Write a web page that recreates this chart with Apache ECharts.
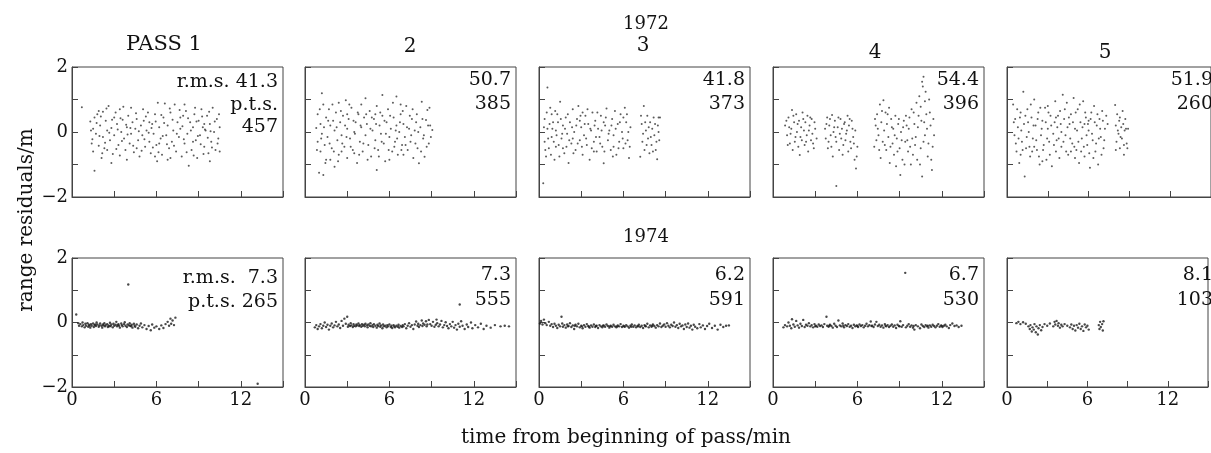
<!DOCTYPE html>
<html><head><meta charset="utf-8">
<script src="https://cdn.jsdelivr.net/npm/echarts/dist/echarts.min.js"></script>
<style>html,body{margin:0;padding:0;background:#fff}#c{width:1211px;height:453px}</style>
</head><body><div id="c"></div>
<script>
const passTitles = ['PASS 1','2','3','4','5'];
const yearTitles = ['1972','1974'];
const rms1972 = ['41.3','50.7','41.8','54.4','51.9'];
const pts1972 = ['457','385','373','396','260'];
const rms1974 = ['7.3','7.3','6.2','6.7','8.1'];
const pts1974 = ['265','555','591','530','103'];
const xTickLabels = [0,6,12];
const yTickLabels = [2,0,-2];
const yAxisTitle = 'range residuals/m';
const xAxisTitle = 'time from beginning of pass/min';

const d72_1 = [[0.7,0.76],[1.3,0.32],[1.4,-0.35],[1.5,-0.6],[1.6,-1.19],[1.5,0.1],[1.7,-0.05],[1.8,0.55],[1.9,-0.42],[2.0,0.2],[2.1,-0.8],[2.2,0.62],[2.2,-0.15],[2.4,0.35],[2.5,-0.55],[2.5,0.05],[2.6,0.8],[2.7,-0.25],[2.8,0.12],[2.9,-0.68],[3.0,0.45],[3.0,-0.1],[3.2,0.25],[3.3,-0.4],[3.4,0.7],[3.4,-0.72],[3.5,0.0],[3.6,0.38],[3.7,-0.2],[3.8,-0.55],[3.9,0.15],[4.0,0.5],[4.1,-0.35],[4.2,-0.05],[4.3,0.3],[4.4,-0.62],[4.5,0.1],[4.6,0.4],[4.7,-0.25],[4.8,-0.75],[4.9,0.2],[5.0,-0.1],[5.1,0.35],[5.2,-0.45],[5.3,0.05],[5.4,0.6],[5.5,-0.3],[5.6,-0.65],[5.7,0.25],[5.8,-0.05],[5.9,0.55],[6.0,-0.4],[6.1,0.9],[6.2,0.15],[6.3,-0.2],[6.4,-0.7],[6.5,0.45],[6.6,0.88],[6.7,-0.1],[6.8,0.2],[6.9,-0.5],[7.0,0.6],[7.1,-0.3],[7.2,0.05],[7.3,0.85],[7.4,-0.6],[7.5,0.3],[7.6,-0.15],[7.7,0.1],[7.8,-0.75],[7.9,0.5],[8.0,-0.35],[8.1,0.65],[8.2,-0.05],[8.3,-1.04],[8.4,0.3],[8.5,-0.55],[8.6,0.15],[8.7,0.55],[8.8,-0.25],[8.9,-0.8],[9.0,0.35],[9.1,-0.1],[9.2,0.7],[9.3,0.15],[9.4,-0.45],[9.5,0.05],[9.6,0.5],[9.7,-0.65],[9.8,0.25],[9.9,-0.3],[10.0,0.75],[10.1,0.0],[10.2,-0.55],[10.3,0.4],[10.4,-0.2],[10.5,0.15],[10.5,-0.6],[1.6,0.45],[2.3,-0.5],[3.1,0.6],[3.9,-0.85],[4.6,-0.5],[5.5,0.3],[6.2,-0.35],[7.0,-0.8],[7.7,0.45],[8.6,-0.3],[9.4,0.25],[9.8,-0.9],[2.8,-0.95],[5.9,-0.75],[1.9,0.65],[4.2,0.75],[8.0,0.85],[6.8,-0.85],
[1.35,0.05],[1.45,-0.22],[1.75,0.28],[1.95,-0.12],[2.05,0.48],[2.35,-0.33],[2.45,0.72],[2.65,-0.02],[2.85,0.38],[3.15,-0.52],[3.25,0.08],[3.45,0.42],[3.55,-0.28],[3.85,0.22],[3.95,-0.08],[4.15,0.12],[4.35,-0.42],[4.55,0.58],[4.75,0.02],[4.95,-0.58],[5.15,-0.22],[5.25,0.48],[5.45,-0.02],[5.65,0.12],[5.75,-0.48],[5.95,0.32],[6.15,-0.62],[6.35,0.52],[6.45,-0.12],[6.55,0.28],[6.75,-0.38],[6.95,0.72],[7.15,0.38],[7.25,-0.42],[7.45,-0.05],[7.65,0.68],[7.85,0.18],[7.95,-0.22],[8.15,-0.62],[8.25,0.42],[8.45,0.05],[8.65,-0.72],[8.85,0.32],[8.95,-0.12],[9.15,-0.38],[9.25,0.48],[9.35,-0.68],[9.45,0.08],[9.65,-0.18],[9.75,0.62],[9.85,0.02],[9.95,-0.48],[10.15,0.32],[10.35,-0.35],[10.45,0.55],[3.65,0.78],[5.05,0.7],[2.15,-0.65],[6.05,-0.9],[8.75,0.75]];
const d72_2 = [[0.8,0.12],[0.9,-0.3],[0.9,0.55],[1.0,-1.25],[1.1,-0.6],[1.1,0.25],[1.2,1.19],[1.2,-0.05],[1.3,0.85],[1.3,-1.32],[1.4,-0.4],[1.5,0.45],[1.6,-0.15],[1.7,0.7],[1.8,-0.85],[1.8,0.2],[1.9,-0.5],[2.0,0.35],[2.1,-1.07],[2.1,0.05],[2.2,0.6],[2.3,-0.25],[2.4,-0.7],[2.5,0.3],[2.6,-0.1],[2.7,0.5],[2.8,-0.45],[2.9,0.98],[3.0,0.1],[3.0,-0.8],[3.1,0.4],[3.2,-0.2],[3.3,0.75],[3.4,-0.55],[3.5,0.0],[3.6,0.3],[3.7,-0.95],[3.8,0.55],[3.9,-0.3],[4.0,0.15],[4.1,-0.6],[4.2,0.45],[4.3,1.04],[4.3,-0.1],[4.4,0.25],[4.5,-0.4],[4.6,0.65],[4.7,-0.75],[4.8,0.05],[4.9,0.4],[5.0,-0.25],[5.1,-1.17],[5.1,0.8],[5.2,-0.55],[5.3,0.2],[5.4,-0.05],[5.5,1.14],[5.5,0.5],[5.6,-0.35],[5.7,-0.9],[5.8,0.3],[5.9,0.7],[6.0,-0.15],[6.1,0.1],[6.2,-0.6],[6.3,0.45],[6.4,-0.3],[6.5,1.09],[6.5,0.2],[6.6,-0.7],[6.7,0.0],[6.8,0.55],[6.9,-0.4],[7.0,0.25],[7.1,-0.15],[7.2,0.8],[7.3,-0.55],[7.4,0.1],[7.5,-0.3],[7.6,0.4],[7.7,-0.8],[7.8,0.05],[7.9,0.3],[8.0,-0.5],[8.1,-0.96],[8.2,0.15],[8.3,0.93],[8.4,-0.2],[8.5,-0.76],[8.6,0.37],[8.7,0.68],[8.8,-0.35],[8.9,0.2],[9.05,0.06],[1.5,-0.85],[2.4,0.9],[3.5,-0.65],[4.0,0.85],[5.0,0.55],[6.0,-0.85],[7.0,-0.7],[3.0,0.55],[6.8,0.85],[2.6,-0.6],
[0.85,-0.55],[1.05,0.7],[1.15,-0.2],[1.35,0.15],[1.45,-0.95],[1.65,0.35],[1.75,-0.35],[1.95,0.85],[2.05,-0.6],[2.25,0.15],[2.35,-0.9],[2.55,0.65],[2.65,-0.35],[2.85,0.2],[2.95,-0.15],[3.15,0.85],[3.25,-0.45],[3.45,0.35],[3.55,-0.05],[3.75,0.6],[3.85,-0.7],[3.95,0.2],[4.15,-0.35],[4.35,0.55],[4.45,-0.85],[4.65,0.1],[4.75,0.45],[4.95,-0.5],[5.05,0.25],[5.25,-0.75],[5.35,0.6],[5.45,-0.3],[5.65,0.35],[5.75,-0.05],[5.95,-0.55],[6.05,0.5],[6.25,0.9],[6.35,-0.45],[6.45,0.05],[6.55,-0.2],[6.75,0.3],[6.85,-0.55],[6.95,0.65],[7.15,-0.4],[7.25,0.15],[7.45,0.5],[7.55,-0.1],[7.65,0.7],[7.85,-0.35],[7.95,0.55],[8.05,0.0],[8.25,-0.6],[8.35,0.4],[8.45,-0.1],[8.65,-0.45],[8.75,0.2],[8.85,0.75],[8.95,-0.15]];
const d72_3 = [[0.3,-1.58],[0.4,-0.3],[0.4,0.4],[0.5,-0.75],[0.6,1.37],[0.6,0.1],[0.7,-0.5],[0.8,0.75],[0.9,-0.15],[1.0,0.3],[1.1,-0.85],[1.2,0.05],[1.3,0.55],[1.4,-0.4],[1.5,0.93],[1.6,-0.2],[1.7,0.2],[1.8,-0.65],[1.9,0.45],[2.0,-0.05],[2.1,-0.95],[2.2,0.3],[2.3,-0.35],[2.4,0.7],[2.5,0.0],[2.6,-0.55],[2.7,0.4],[2.8,0.8],[2.9,-0.25],[3.0,0.15],[3.1,-0.7],[3.2,-0.1],[3.3,0.5],[3.4,-0.4],[3.5,0.25],[3.6,-0.85],[3.7,0.05],[3.8,0.6],[3.9,-0.3],[4.0,0.35],[4.1,-0.6],[4.2,0.1],[4.3,-0.15],[4.4,0.5],[4.5,-0.45],[4.6,-0.96],[4.7,0.2],[4.8,0.72],[4.9,-0.25],[5.0,0.05],[5.1,-0.55],[5.2,0.4],[5.3,-0.1],[5.4,0.65],[5.5,-0.7],[5.6,0.25],[5.7,-0.3],[5.8,0.55],[5.9,0.0],[6.0,-0.5],[6.1,0.75],[6.2,0.3],[6.3,-0.25],[6.4,-0.8],[6.5,0.15],[7.2,-0.76],[7.3,0.25],[7.35,-0.3],[7.45,0.8],[7.5,-0.55],[7.6,0.05],[7.7,0.5],[7.75,-0.2],[7.85,-0.65],[7.9,0.3],[8.0,-0.4],[8.05,0.1],[8.15,0.45],[8.2,-0.1],[8.3,-0.55],[8.4,-0.84],[8.45,0.2],[8.5,0.45],[8.55,-0.25],[8.6,0.45],[0.9,0.55],[1.7,-0.5],[2.4,-0.2],[3.1,0.6],[3.9,-0.6],[4.6,0.3],[5.3,-0.45],[6.0,0.45],[1.2,-0.45],[2.9,0.35],
[0.35,0.15],[0.45,-0.55],[0.55,0.6],[0.65,-0.2],[0.75,0.25],[0.85,-0.7],[0.95,0.1],[1.05,-0.3],[1.15,0.65],[1.25,-0.1],[1.35,0.3],[1.45,-0.75],[1.55,0.4],[1.65,-0.05],[1.85,0.1],[1.95,-0.45],[2.05,0.55],[2.15,-0.25],[2.35,0.15],[2.45,-0.65],[2.65,0.2],[2.75,-0.35],[2.95,0.5],[3.05,-0.45],[3.25,0.25],[3.35,-0.2],[3.45,0.7],[3.65,0.1],[3.75,-0.5],[3.95,0.2],[4.05,-0.15],[4.15,0.6],[4.35,-0.35],[4.45,0.05],[4.65,-0.6],[4.75,0.45],[4.95,-0.05],[5.15,0.2],[5.25,-0.75],[5.45,0.1],[5.65,-0.5],[5.75,0.3],[5.95,-0.2],[6.15,-0.35],[6.25,0.55],[6.35,0.0],[6.45,-0.45],[7.25,0.5],[7.4,-0.05],[7.55,0.3],[7.65,-0.4],[7.8,0.15],[7.95,-0.15],[8.1,-0.6],[8.25,0.25],[8.35,-0.3],[8.5,0.0]];
const d72_4 = [[0.86,0.2],[1.0,-0.1],[1.1,0.45],[1.2,-0.35],[1.3,0.1],[1.35,0.68],[1.4,-0.55],[1.5,0.3],[1.6,-0.15],[1.65,0.55],[1.7,0.0],[1.8,-0.45],[1.85,0.35],[1.9,-0.71],[2.0,0.15],[2.05,-0.25],[2.1,0.6],[2.2,0.05],[2.25,-0.4],[2.3,0.3],[2.4,-0.1],[2.45,0.5],[2.5,-0.6],[2.6,0.2],[2.7,-0.25],[2.75,0.4],[2.8,-0.05],[2.9,-0.5],[3.0,0.1],[3.1,-0.2],[3.7,0.1],[3.75,-0.2],[3.85,0.45],[3.9,-0.5],[4.0,0.2],[4.1,-0.1],[4.2,0.52],[4.25,-0.75],[4.3,0.0],[4.4,0.35],[4.5,-1.66],[4.5,-0.3],[4.6,0.15],[4.7,-0.55],[4.8,0.4],[4.85,-0.2],[4.9,0.1],[5.0,-0.4],[5.1,0.3],[5.2,-0.05],[5.3,0.5],[5.35,-0.6],[5.4,0.2],[5.5,-0.3],[5.6,0.35],[5.7,-0.15],[5.8,-0.85],[5.85,0.05],[5.9,-1.12],[6.0,-0.45],[7.2,-0.45],[7.3,0.2],[7.4,0.55],[7.5,-0.1],[7.6,0.85],[7.65,-0.8],[7.7,0.3],[7.8,-0.3],[7.85,0.98],[7.9,0.05],[8.0,0.6],[8.05,-0.55],[8.1,0.25],[8.2,-0.15],[8.25,0.75],[8.3,-0.95],[8.4,0.4],[8.5,-0.35],[8.55,0.1],[8.6,-0.7],[8.7,0.5],[8.75,-1.05],[8.8,-0.2],[8.9,0.25],[9.0,-0.5],[9.05,-1.32],[9.1,0.0],[9.2,-0.85],[9.3,0.35],[9.4,-0.3],[9.5,0.2],[9.6,-0.6],[9.7,0.45],[9.8,-1.0],[9.9,-0.2],[10.0,0.6],[10.1,-0.4],[10.2,0.9],[10.25,-0.85],[10.3,0.15],[10.4,1.1],[10.5,0.78],[10.5,-0.5],[10.6,-1.37],[10.65,1.4],[10.7,1.7],[10.75,0.3],[10.8,-0.1],[10.85,1.24],[10.9,0.55],[11.0,-0.75],[11.1,1.0],[11.2,0.2],[11.3,-1.17],[11.35,-0.45],[11.4,0.4],
[0.95,0.35],[1.05,-0.4],[1.15,0.15],[1.25,-0.05],[1.45,0.5],[1.55,-0.3],[1.75,0.25],[1.95,-0.15],[2.15,0.4],[2.35,-0.3],[2.55,0.05],[2.65,0.45],[2.85,-0.35],[2.95,0.3],[3.8,0.25],[3.95,-0.3],[4.05,0.4],[4.15,-0.45],[4.35,0.15],[4.45,-0.15],[4.65,0.45],[4.75,-0.05],[4.95,-0.7],[5.05,0.25],[5.15,-0.25],[5.25,0.05],[5.45,0.4],[5.55,-0.5],[5.65,0.1],[5.75,-0.35],[5.95,-0.75],[7.25,0.4],[7.35,-0.25],[7.45,0.1],[7.55,-0.55],[7.75,0.65],[7.95,-0.4],[8.15,0.55],[8.35,-0.45],[8.45,0.15],[8.65,-0.1],[8.85,-0.6],[8.95,0.4],[9.15,-0.25],[9.25,0.15],[9.35,-1.0],[9.45,0.5],[9.55,-0.25],[9.65,0.1],[9.75,-0.45],[9.85,0.7],[9.95,-0.7],[10.05,0.25],[10.15,-0.15],[10.35,0.5],[10.45,-1.0],[10.55,0.35],[10.6,1.55],[10.7,-0.3],[10.8,0.95],[10.95,0.1],[11.05,-0.35],[11.15,0.6],[11.25,-0.85],[11.45,-0.1]];
const d72_5 = [[0.45,0.85],[0.55,-0.1],[0.6,0.4],[0.7,-0.6],[0.8,0.15],[0.9,-0.95],[1.0,0.6],[1.1,-0.3],[1.2,1.24],[1.25,0.25],[1.3,-1.37],[1.4,-0.5],[1.5,0.7],[1.6,0.0],[1.7,-0.75],[1.8,0.45],[1.9,-0.2],[2.0,1.0],[2.1,0.2],[2.2,-0.55],[2.3,0.6],[2.4,-1.0],[2.5,-0.1],[2.6,0.35],[2.7,-0.4],[2.8,0.75],[2.9,-0.85],[3.0,0.1],[3.1,-0.3],[3.2,0.5],[3.3,-1.05],[3.4,-0.05],[3.5,0.3],[3.6,-0.6],[3.7,0.15],[3.8,-0.2],[3.9,0.65],[4.0,-0.45],[4.1,1.15],[4.2,0.4],[4.3,-0.1],[4.4,0.9],[4.5,-0.7],[4.6,0.25],[4.7,0.55],[4.8,-0.35],[4.9,1.05],[5.0,0.1],[5.1,-0.55],[5.2,0.7],[5.3,-0.95],[5.4,0.3],[5.5,-0.2],[5.6,0.95],[5.7,-0.75],[5.8,0.45],[5.9,-0.4],[6.0,0.05],[6.1,-1.1],[6.2,0.6],[6.3,-0.25],[6.4,0.8],[6.5,-0.6],[6.6,0.2],[6.7,-1.0],[6.8,0.4],[6.9,-0.15],[7.0,0.65],[7.1,-0.5],[7.2,0.1],[7.4,0.25],[7.95,0.83],[8.0,0.2],[8.05,-0.3],[8.1,0.55],[8.2,-0.05],[8.25,0.35],[8.3,-0.5],[8.4,0.15],[8.45,-0.2],[8.5,0.65],[8.6,-0.7],[8.65,0.05],[8.7,0.4],[8.8,-0.35],[8.9,0.1],[1.0,-0.7],[2.0,-0.45],[3.0,0.8],[4.0,0.0],[5.0,-0.8],[6.0,0.35],[3.6,0.45],[2.6,-0.9],[4.7,-0.6],[5.7,0.25],
[0.5,0.3],[0.65,-0.35],[0.75,0.7],[0.85,-0.2],[0.95,0.45],[1.05,0.05],[1.15,-0.55],[1.35,0.5],[1.45,-0.15],[1.55,0.3],[1.65,-0.45],[1.75,0.85],[1.85,-0.6],[1.95,0.2],[2.15,-0.25],[2.25,0.4],[2.35,-0.75],[2.45,0.75],[2.55,0.1],[2.65,-0.55],[2.85,0.3],[2.95,-0.2],[3.05,0.6],[3.15,-0.7],[3.25,0.2],[3.45,-0.4],[3.55,0.95],[3.65,-0.25],[3.75,0.5],[3.85,-0.8],[3.95,0.25],[4.15,-0.3],[4.25,0.7],[4.35,-0.6],[4.45,0.15],[4.55,0.45],[4.65,-0.2],[4.85,0.3],[4.95,-0.45],[5.05,0.6],[5.15,0.05],[5.25,-0.3],[5.35,0.85],[5.45,-0.6],[5.55,0.15],[5.65,-0.45],[5.75,0.6],[5.85,-0.1],[5.95,0.25],[6.05,-0.65],[6.15,0.4],[6.25,-0.05],[6.35,-0.8],[6.45,0.3],[6.55,-0.35],[6.65,0.55],[6.75,-0.2],[6.85,0.1],[6.95,-0.7],[7.05,0.35],[7.15,-0.25],[7.3,0.5],[8.0,-0.55],[8.15,0.05],[8.3,0.45],[8.35,-0.15],[8.55,0.25],[8.6,-0.4],[8.75,0.1],[8.85,-0.5]];
const d74_1 = [[0.45,-0.02],[0.5,-0.1],[0.6,-0.05],[0.7,-0.12],[0.75,0.0],[0.8,-0.08],[0.9,-0.15],[0.95,-0.04],[1.0,-0.1],[1.1,-0.02],[1.15,-0.13],[1.2,-0.07],[1.3,-0.16],[1.35,-0.05],[1.4,-0.1],[1.5,-0.03],[1.55,-0.14],[1.6,-0.08],[1.7,-0.11],[1.75,0.0],[1.8,-0.06],[1.9,-0.13],[1.95,-0.09],[2.0,-0.03],[2.1,-0.1],[2.15,-0.16],[2.2,-0.06],[2.3,-0.02],[2.35,-0.12],[2.4,-0.08],[2.5,-0.05],[2.55,-0.14],[2.6,-0.09],[2.7,-0.01],[2.75,-0.11],[2.8,-0.06],[2.9,-0.15],[2.95,-0.04],[3.0,-0.1],[3.1,-0.07],[3.15,0.02],[3.2,-0.12],[3.3,-0.05],[3.35,-0.1],[3.4,-0.16],[3.5,-0.03],[3.55,-0.08],[3.6,-0.12],[3.7,-0.05],[3.75,0.01],[3.8,-0.1],[3.9,-0.14],[3.95,-0.06],[4.0,1.18],[4.05,-0.09],[4.1,-0.02],[4.2,-0.12],[4.25,-0.07],[4.3,-0.16],[4.4,-0.04],[4.45,-0.1],[4.5,-0.13],[4.6,-0.06],[4.7,-0.18],[4.8,-0.1],[4.9,-0.03],[5.0,-0.15],[5.15,-0.08],[5.3,-0.2],[5.45,-0.11],[5.6,-0.24],[5.7,-0.06],[5.85,-0.16],[6.0,-0.12],[6.2,-0.2],[6.35,-0.09],[6.5,-0.17],[6.65,-0.05],[6.8,0.02],[6.9,-0.1],[7.0,0.12],[7.05,-0.04],[7.15,0.06],[7.25,-0.08],[7.35,0.15],[0.3,0.25],[13.2,-1.9],[1.25,-0.1],[2.25,-0.09],[3.25,-0.08],[4.15,-0.1],[2.65,-0.12],[1.65,-0.06]];
const d74_2 = [[0.7,-0.15],[0.8,-0.08],[0.9,-0.2],[1.0,-0.12],[1.1,-0.05],[1.2,-0.18],[1.3,-0.1],[1.4,0.0],[1.5,-0.14],[1.6,-0.07],[1.7,-0.22],[1.8,-0.1],[1.9,-0.03],[2.0,-0.15],[2.1,-0.09],[2.2,0.02],[2.3,-0.12],[2.4,-0.06],[2.5,-0.17],[2.6,0.05],[2.7,-0.1],[2.8,0.12],[2.9,-0.04],[3.0,0.18],[3.05,-0.13],[3.1,-0.07],[3.2,-0.11],[3.25,-0.02],[3.3,-0.09],[3.4,-0.14],[3.45,-0.05],[3.5,-0.1],[3.6,-0.12],[3.65,-0.06],[3.7,-0.09],[3.8,-0.03],[3.85,-0.11],[3.9,-0.08],[4.0,-0.13],[4.05,-0.05],[4.1,-0.1],[4.2,-0.07],[4.25,-0.12],[4.3,-0.04],[4.4,-0.09],[4.45,-0.15],[4.5,-0.06],[4.6,-0.1],[4.65,-0.02],[4.7,-0.12],[4.8,-0.08],[4.85,-0.14],[4.9,-0.05],[5.0,-0.1],[5.1,-0.16],[5.15,-0.07],[5.2,-0.11],[5.3,-0.03],[5.35,-0.13],[5.4,-0.09],[5.5,-0.18],[5.55,-0.06],[5.6,-0.12],[5.7,-0.1],[5.8,-0.15],[5.85,-0.08],[5.9,-0.12],[6.0,-0.06],[6.1,-0.14],[6.15,-0.1],[6.2,-0.17],[6.3,-0.08],[6.35,-0.12],[6.4,-0.15],[6.5,-0.1],[6.6,-0.13],[6.65,-0.07],[6.7,-0.16],[6.8,-0.11],[6.9,-0.14],[6.95,-0.08],[7.0,-0.12],[7.1,-0.05],[7.2,-0.18],[7.3,-0.1],[7.4,-0.02],[7.5,-0.13],[7.6,-0.08],[7.7,-0.2],[7.8,-0.06],[7.9,0.03],[8.0,-0.1],[8.05,-0.04],[8.1,-0.14],[8.2,-0.08],[8.3,0.06],[8.35,-0.11],[8.4,-0.03],[8.5,-0.07],[8.6,0.04],[8.65,-0.12],[8.7,-0.06],[8.8,0.08],[8.9,-0.05],[9.0,-0.1],[9.1,0.02],[9.2,-0.13],[9.3,-0.07],[9.35,0.09],[9.4,-0.02],[9.5,-0.12],[9.6,-0.06],[9.7,0.05],[9.8,-0.15],[9.9,-0.08],[10.0,0.01],[10.1,-0.11],[10.2,-0.18],[10.3,-0.05],[10.4,-0.12],[10.5,0.02],[10.6,-0.16],[10.7,-0.08],[10.8,-0.22],[10.9,-0.04],[11.0,-0.13],[11.1,0.04],[11.2,-0.1],[11.35,-0.2],[11.5,-0.06],[11.6,-0.14],[11.8,0.0],[11.9,-0.18],[12.1,-0.08],[12.3,-0.15],[12.5,-0.04],[12.7,-0.2],[12.9,-0.1],[13.2,-0.16],[13.5,-0.08],[13.9,-0.12],[14.2,-0.1],[14.5,-0.12],[11.0,0.56]];
const d74_3 = [[0.07,-0.03],[0.15,0.05],[0.25,-0.06],[0.35,0.09],[0.45,-0.02],[0.55,-0.08],[0.7,0.02],[0.8,-0.1],[0.9,-0.05],[1.0,-0.14],[1.1,-0.04],[1.2,-0.1],[1.3,-0.17],[1.4,-0.07],[1.5,-0.12],[1.6,0.18],[1.65,-0.03],[1.7,-0.13],[1.8,-0.08],[1.9,-0.16],[2.0,-0.06],[2.1,-0.11],[2.2,-0.02],[2.3,-0.14],[2.4,-0.09],[2.5,-0.2],[2.6,-0.07],[2.7,-0.12],[2.8,-0.04],[2.9,-0.15],[3.0,-0.1],[3.1,-0.18],[3.2,-0.08],[3.3,-0.13],[3.4,-0.05],[3.5,-0.11],[3.6,-0.16],[3.7,-0.09],[3.8,-0.13],[3.9,-0.06],[4.0,-0.14],[4.1,-0.1],[4.2,-0.17],[4.3,-0.08],[4.4,-0.12],[4.5,-0.15],[4.6,-0.09],[4.7,-0.13],[4.8,-0.06],[4.9,-0.11],[5.0,-0.16],[5.1,-0.1],[5.2,-0.13],[5.3,-0.07],[5.4,-0.12],[5.5,-0.15],[5.6,-0.09],[5.7,-0.12],[5.8,-0.05],[5.9,-0.14],[6.0,-0.1],[6.1,-0.13],[6.2,-0.08],[6.3,-0.12],[6.4,-0.16],[6.5,-0.1],[6.6,-0.06],[6.7,-0.13],[6.8,-0.09],[6.9,-0.15],[7.0,-0.11],[7.1,-0.07],[7.2,-0.14],[7.3,-0.1],[7.4,-0.17],[7.5,-0.08],[7.6,-0.12],[7.7,-0.04],[7.8,-0.15],[7.9,-0.09],[8.0,-0.13],[8.1,-0.06],[8.2,-0.11],[8.3,-0.16],[8.4,-0.08],[8.5,-0.12],[8.6,-0.03],[8.7,-0.14],[8.8,-0.1],[8.9,-0.06],[9.0,-0.13],[9.1,-0.02],[9.2,-0.1],[9.3,-0.15],[9.4,-0.07],[9.5,-0.11],[9.6,0.0],[9.7,-0.13],[9.8,-0.08],[9.9,-0.17],[10.0,-0.04],[10.1,-0.12],[10.2,-0.09],[10.3,-0.2],[10.4,-0.06],[10.5,-0.14],[10.6,-0.03],[10.7,-0.16],[10.8,-0.1],[10.9,-0.22],[11.0,-0.07],[11.1,-0.13],[11.25,-0.18],[11.4,-0.05],[11.5,-0.15],[11.65,-0.09],[11.8,-0.2],[11.95,-0.11],[12.1,-0.04],[12.3,-0.17],[12.5,-0.1],[12.7,-0.22],[12.9,-0.07],[13.1,-0.14],[13.3,-0.1],[13.5,-0.09],[2.05,-0.12],[3.05,-0.12],[4.05,-0.11],[5.05,-0.12],[6.05,-0.12],[7.05,-0.12],[8.05,-0.1],[2.55,-0.1],[3.55,-0.13],[4.55,-0.1],[5.55,-0.12],[6.55,-0.13],[7.55,-0.11]];
const d74_4 = [[0.74,-0.15],[0.85,-0.08],[1.0,-0.12],[1.1,0.0],[1.2,-0.1],[1.3,-0.18],[1.35,0.1],[1.45,-0.06],[1.55,-0.13],[1.65,0.05],[1.75,-0.09],[1.85,-0.16],[1.95,-0.04],[2.05,-0.11],[2.15,0.08],[2.25,-0.14],[2.35,-0.07],[2.45,-0.1],[2.55,-0.02],[2.65,-0.12],[2.75,-0.08],[2.85,-0.15],[2.95,-0.05],[3.05,-0.1],[3.15,-0.13],[3.25,-0.06],[3.35,-0.11],[3.45,-0.09],[3.55,-0.14],[3.65,-0.05],[3.8,0.18],[3.85,-0.1],[3.95,-0.13],[4.05,-0.07],[4.15,-0.11],[4.25,-0.16],[4.35,-0.04],[4.45,-0.1],[4.55,-0.14],[4.65,0.06],[4.75,-0.09],[4.85,-0.12],[4.95,-0.03],[5.05,-0.15],[5.15,-0.08],[5.25,-0.11],[5.35,-0.05],[5.45,-0.13],[5.55,-0.1],[5.65,-0.17],[5.75,-0.07],[5.85,-0.12],[5.95,-0.09],[6.05,-0.14],[6.15,-0.06],[6.25,-0.11],[6.35,-0.08],[6.45,-0.15],[6.55,-0.1],[6.65,-0.04],[6.75,-0.12],[6.85,-0.08],[6.95,0.03],[7.05,-0.1],[7.15,-0.14],[7.25,-0.06],[7.35,0.02],[7.45,-0.11],[7.55,-0.07],[7.65,-0.13],[7.75,-0.09],[7.85,-0.16],[7.95,-0.05],[8.05,-0.12],[8.15,-0.08],[8.25,-0.14],[8.35,-0.1],[8.45,-0.06],[8.55,-0.13],[8.65,-0.09],[8.75,-0.17],[8.85,-0.07],[8.95,-0.11],[9.05,0.04],[9.15,-0.13],[9.25,-0.08],[9.4,1.54],[9.45,-0.15],[9.55,-0.1],[9.65,-0.05],[9.75,-0.13],[9.85,-0.09],[9.95,-0.16],[10.05,-0.22],[10.15,-0.08],[10.3,-0.12],[10.45,-0.18],[10.55,-0.06],[10.65,-0.11],[10.75,-0.14],[10.85,-0.08],[10.95,-0.12],[11.05,-0.16],[11.15,-0.09],[11.25,-0.13],[11.35,-0.07],[11.45,-0.11],[11.55,-0.15],[11.65,-0.1],[11.75,-0.05],[11.85,-0.13],[11.95,-0.09],[12.05,-0.14],[12.15,-0.1],[12.25,-0.07],[12.35,-0.12],[12.5,-0.17],[12.6,-0.08],[12.75,-0.03],[12.9,-0.11],[13.05,-0.09],[13.2,-0.14],[13.4,-0.1],[3.0,-0.12],[4.0,-0.1],[5.0,-0.1],[6.0,-0.11],[7.0,-0.11],[8.0,-0.1],[9.0,-0.12],[10.0,-0.11],[11.0,-0.1],[12.0,-0.11]];
const d74_5 = [[0.7,-0.02],[0.85,0.02],[1.0,-0.05],[1.2,0.01],[1.4,-0.04],[1.6,-0.12],[1.7,-0.2],[1.75,-0.08],[1.85,-0.28],[1.9,-0.15],[2.0,-0.22],[2.05,-0.05],[2.15,-0.3],[2.2,-0.12],[2.3,-0.37],[2.35,-0.18],[2.45,-0.08],[2.55,-0.24],[2.65,-0.14],[2.8,-0.05],[3.0,-0.1],[3.2,-0.03],[3.45,-0.12],[3.55,0.02],[3.6,-0.06],[3.7,0.05],[3.8,-0.1],[3.85,-0.02],[3.95,-0.16],[4.05,-0.07],[4.15,-0.12],[4.3,-0.05],[4.5,-0.1],[4.7,-0.15],[4.8,-0.06],[4.9,-0.2],[5.0,-0.1],[5.1,-0.25],[5.2,-0.08],[5.3,-0.16],[5.4,-0.04],[5.5,-0.2],[5.6,-0.12],[5.7,-0.26],[5.8,-0.06],[5.9,-0.15],[6.0,-0.1],[6.1,-0.22],[6.85,-0.08],[6.9,-0.2],[6.95,0.02],[7.0,-0.14],[7.1,-0.05],[7.15,-0.25],[7.2,0.04]];

const data1972 = [d72_1,d72_2,d72_3,d72_4,d72_5];
const data1974 = [d74_1,d74_2,d74_3,d74_4,d74_5];

const FONT = '"DejaVu Serif", "Liberation Serif", serif';
const INK = '#111';
const FRAME = '#444';
const lefts = [72,305,539,773,1007];
const W = 211;
const rows = [{top:67,h:130},{top:258,h:129}];

const grids=[], xAxes=[], yAxes=[], series=[], graphic=[];
function txt(x,y,s,align,size,rot){
  return {type:'text', x:x, y:y, rotation:rot||0, silent:true,
    style:{text:s, fill:INK, font: size+'px '+FONT, fontSize:size, fontFamily:FONT,
      align:align, verticalAlign:'middle', textAlign:align, textVerticalAlign:'middle'}};
}
for (let r=0;r<2;r++){
  for (let c=0;c<5;c++){
    const i=grids.length;
    grids.push({left:lefts[c], top:rows[r].top, width:W, height:rows[r].h, show:true,
      borderColor:FRAME, borderWidth:1, backgroundColor:'transparent', containLabel:false});
    xAxes.push({gridIndex:i, type:'value', min:0, max:15, interval:3,
      axisLine:{show:true, onZero:false, lineStyle:{color:FRAME,width:1}},
      axisTick:{show:true, inside:true, length:6, lineStyle:{color:FRAME,width:1}},
      splitLine:{show:false},
      axisLabel:{show:r===1, margin:4, color:INK, fontFamily:FONT, fontSize:18,
        showMinLabel:true, showMaxLabel:true,
        formatter:v=>xTickLabels.indexOf(v)>=0?String(v):''}});
    yAxes.push({gridIndex:i, type:'value', min:-2, max:2, interval:1,
      axisLine:{show:true, onZero:false, lineStyle:{color:FRAME,width:1}},
      axisTick:{show:true, inside:true, length:6, lineStyle:{color:FRAME,width:1}},
      splitLine:{show:false},
      axisLabel:{show:c===0, margin:4, color:INK, fontFamily:FONT, fontSize:18,
        showMinLabel:true, showMaxLabel:true,
        formatter:v=>yTickLabels.indexOf(v)>=0?(v<0?'\u2212'+Math.abs(v):String(v)):''}});
    series.push({type:'scatter', xAxisIndex:i, yAxisIndex:i,
      data:(r===0?data1972:data1974)[c], symbol:'circle', symbolSize:r===0?2:2.4,
      itemStyle:{color:r===0?'#333':'#1a1a1a'}, silent:true, clip:true});
    const rx = lefts[c]+W-5;
    if (r===0){
      if (c===0){
        graphic.push(txt(rx,82,'r.m.s. '+rms1972[c],'right',19));
        graphic.push(txt(rx,105,'p.t.s.','right',19));
        graphic.push(txt(rx,127,pts1972[c],'right',19));
      } else {
        graphic.push(txt(rx,80,rms1972[c],'right',19));
        graphic.push(txt(rx,104,pts1972[c],'right',19));
      }
    } else {
      if (c===0){
        graphic.push(txt(rx,278,'r.m.s.  '+rms1974[c],'right',19));
        graphic.push(txt(rx,302,'p.t.s. '+pts1974[c],'right',19));
      } else {
        graphic.push(txt(rx,275,rms1974[c],'right',19));
        graphic.push(txt(rx,300,pts1974[c],'right',19));
      }
    }
  }
}
const passX=[164,410,643,875,1105], passY=[45,47,46,53,53];
for (let c=0;c<5;c++) graphic.push(txt(passX[c],passY[c],passTitles[c],'center',c===0?21:20));
graphic.push(txt(646,24,yearTitles[0],'center',18));
graphic.push(txt(646,237,yearTitles[1],'center',18));
graphic.push(txt(27,220,yAxisTitle,'center',20,Math.PI/2));
graphic.push(txt(626,438,xAxisTitle,'center',20));

const chart = echarts.init(document.getElementById('c'), null, {renderer:'canvas'});
chart.setOption({animation:false, backgroundColor:'#fff', grid:grids, xAxis:xAxes, yAxis:yAxes, series:series, graphic:graphic});
</script></body></html>
